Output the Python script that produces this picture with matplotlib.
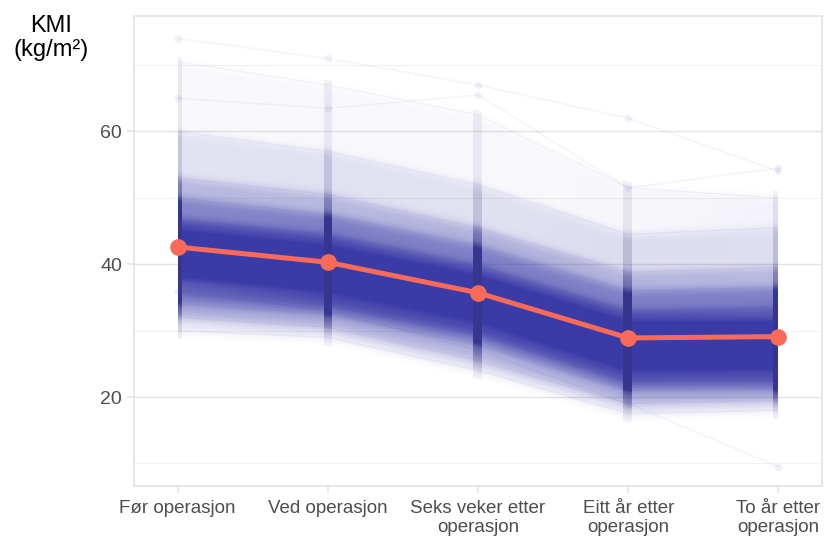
import numpy as np
import matplotlib.pyplot as plt
from matplotlib.colors import to_rgb

# time points on the x axis
tidspunkt = ['Før operasjon', 'Ved operasjon', 'Seks veker etter\noperasjon',
             'Eitt år etter\noperasjon', 'To år etter\noperasjon']

# mean BMI (salmon line)
kmi_snitt = [42.6, 40.3, 35.7, 28.9, 29.1]

# percentiles of individual BMI at each time point (read from the cloud)
prosentil = [0, 1, 5, 10, 20, 30, 40, 50, 60, 70, 80, 90, 95, 99, 100]
kmi_for = [30.0, 32.0, 34.0, 35.5, 37.8, 39.5, 41.0, 42.0, 43.3, 44.8, 46.8, 50.0, 53.0, 60.0, 70.5]
kmi_ved = [29.0, 30.5, 32.5, 33.8, 35.8, 37.5, 38.8, 39.8, 41.0, 42.5, 44.5, 47.5, 50.5, 57.0, 67.0]
kmi_6v = [24.0, 25.5, 27.8, 29.3, 31.3, 33.0, 34.3, 35.3, 36.5, 37.8, 39.8, 42.8, 45.5, 52.0, 62.5]
kmi_1a = [17.5, 19.0, 21.0, 22.3, 24.3, 25.8, 27.2, 28.3, 29.5, 31.0, 33.0, 36.0, 38.8, 44.5, 51.5]
kmi_2a = [18.0, 19.5, 21.3, 22.5, 24.5, 26.0, 27.5, 28.5, 29.8, 31.3, 33.5, 36.5, 39.5, 45.5, 50.0]

# a few single patients that stand out from the cloud
uteliggarar = [
    [74.0, 71.0, 67.0, 62.0, 54.0],
    [65.0, 63.5, 65.5, 51.5, 54.5],
    [36.0, 33.0, 27.0, 19.0, 9.5],
]

blaa = '#3B3BA8'
blaa_mork = '#36368F'
laks = '#F96B58'
grid_farge = '#E6E2DE'
tekst_farge = '#4D4D4D'

plt.rcParams['font.family'] = ['Liberation Sans', 'DejaVu Sans']

fig = plt.figure(figsize=(8.31, 5.38), dpi=100)
ax = fig.add_axes([0.1613, 0.0967, 0.8279, 0.8736])

xlim = (-0.29, 4.29)
ylim = (6.6, 77.4)
x = np.arange(len(tidspunkt))
q = np.array([kmi_for, kmi_ved, kmi_6v, kmi_1a, kmi_2a])  # (time, percentile)
p = np.array(prosentil) / 100.0

# density of the spaghetti cloud, rendered as an rgba image
nx, ny = 688, 470
xx = np.linspace(*xlim, nx)
yy = np.linspace(*ylim, ny)
dy = yy[1] - yy[0]
tett = np.zeros((ny, nx))
for j, xv in enumerate(xx):
    if xv < 0 or xv > x[-1]:
        continue
    t = min(int(xv), len(x) - 2)
    f = xv - t
    qx = (1 - f) * q[t] + f * q[t + 1]
    cdf = np.interp(yy, qx, p)
    tett[:, j] = np.gradient(cdf, dy)

# soften the steps between percentile bands
k = np.exp(-0.5 * (np.arange(-12, 13) * dy / 0.6) ** 2)
k /= k.sum()
tett = np.apply_along_axis(lambda c: np.convolve(c, k, mode='same'), 0, tett)

alpha = np.clip((tett / 0.055) ** 0.85, 0, 1)
rgba = np.zeros((ny, nx, 4))
rgba[..., :3] = to_rgb(blaa)
stripe = np.abs(xx - np.round(xx)) < 4.5 / 150
stripe &= (xx >= 0) & (xx <= x[-1])
rgba[:, stripe, :3] = to_rgb(blaa_mork)
alpha[:, stripe] = np.clip(1.6 * alpha[:, stripe] + 0.06 * (tett[:, stripe] > 1e-4), 0, 1)
rgba[..., 3] = alpha
ax.imshow(rgba, extent=(*xlim, *ylim), origin='lower', aspect='auto',
          interpolation='nearest', zorder=2)

# faint streaks along each percentile and the outlying patients
for i in range(len(p)):
    ax.plot(x, q[:, i], color=blaa, alpha=0.06, lw=0.8, zorder=3)
for rad in uteliggarar:
    ax.plot(x, rad, color=blaa, alpha=0.05, lw=1.2, zorder=3)
    ax.scatter(x, rad, s=30, color=blaa, alpha=0.07, lw=0, zorder=3)

# mean trajectory
ax.plot(x, kmi_snitt, color=laks, lw=3.6, marker='o', ms=11,
        solid_capstyle='round', zorder=6)

ax.set_xlim(*xlim)
ax.set_ylim(*ylim)
ax.set_xticks(x)
ax.set_xticklabels(tidspunkt, fontsize=13.5, color=tekst_farge, linespacing=1.15)
ax.set_yticks([20, 40, 60])
ax.set_yticks([10, 30, 50, 70], minor=True)
ax.tick_params(axis='y', which='major', labelsize=14, labelcolor=tekst_farge,
               color=grid_farge, length=5, width=1.2)
ax.tick_params(axis='y', which='minor', length=0)
ax.tick_params(axis='x', color=grid_farge, length=5, width=1.2, pad=5)

ax.grid(True, which='major', axis='y', color=grid_farge, lw=1)
ax.grid(True, which='minor', axis='y', color='#F3F1EF', lw=0.8)
ax.set_axisbelow(True)
for s in ax.spines.values():
    s.set_color(grid_farge)
    s.set_linewidth(1.2)

fig.text(0.061, 0.93, 'KMI\n(kg/m²)', ha='center', va='center',
         fontsize=17, linespacing=1.1, color='black')

fig.savefig('out.png', dpi=100)
